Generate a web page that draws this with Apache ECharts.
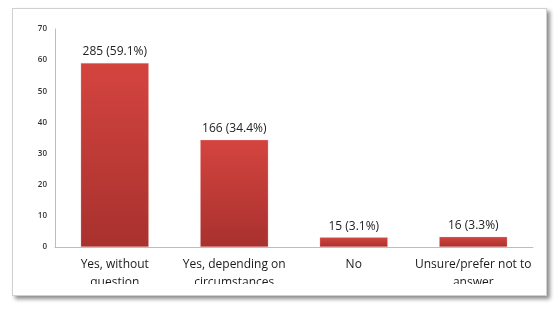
<!DOCTYPE html>
<html><head><meta charset="utf-8">
<script src="https://cdn.jsdelivr.net/npm/echarts@6/dist/echarts.min.js"></script>
<style>
html,body{margin:0;padding:0;background:#fff;width:559px;height:312px;overflow:hidden;}
#frame{position:absolute;left:12px;top:8px;width:533px;height:286px;border:1px solid #d0d0d0;background:#fff;box-shadow:3px 3px 4px rgba(0,0,0,0.45);overflow:hidden;}
#chart{position:absolute;left:0;top:0;width:534px;height:275px;}
</style></head>
<body>
<div id="frame"><div id="chart"></div></div>
<script>
const categories = ['Yes, without\nquestion', 'Yes, depending on\ncircumstances', 'No', 'Unsure/prefer not to\nanswer'];
const counts = [285, 166, 15, 16];
const percents = [59.1, 34.4, 3.1, 3.3];
const yTicks = [0, 10, 20, 30, 40, 50, 60, 70];

const chart = echarts.init(document.getElementById('chart'), null, {renderer: 'canvas'});
chart.setOption({
  animation: false,
  grid: {left: 42, right: 14, top: 20, bottom: 37, containLabel: false, outerBoundsMode: 'none'},
  xAxis: {
    type: 'category',
    data: categories,
    axisLine: {lineStyle: {color: '#bdbdbd', width: 1}},
    axisTick: {show: false},
    axisLabel: {color: '#1a1a1a', fontSize: 12, fontFamily: 'Open Sans', margin: 9, lineHeight: 18, interval: 0}
  },
  yAxis: {
    type: 'value',
    min: yTicks[0], max: yTicks[yTicks.length - 1], interval: 10,
    axisLine: {show: true, lineStyle: {color: '#bdbdbd', width: 1}},
    axisTick: {show: false},
    splitLine: {show: false},
    axisLabel: {color: '#333', fontSize: 8, fontFamily: 'Open Sans', fontWeight: 600, margin: 8}
  },
  series: [{
    type: 'bar',
    data: percents,
    barWidth: '57%',
    itemStyle: {
      color: new echarts.graphic.LinearGradient(0, 0, 0, 1, [
        {offset: 0, color: '#d4443f'},
        {offset: 1, color: '#a8312e'}
      ]),
      borderColor: 'rgba(255,200,200,0.5)', borderWidth: 0.5
    },
    label: {
      show: true, position: 'top', distance: 5,
      color: '#222', fontSize: 12, fontFamily: 'Open Sans',
      formatter: p => counts[p.dataIndex] + ' (' + percents[p.dataIndex] + '%)'
    }
  }]
});
</script>
</body></html>
